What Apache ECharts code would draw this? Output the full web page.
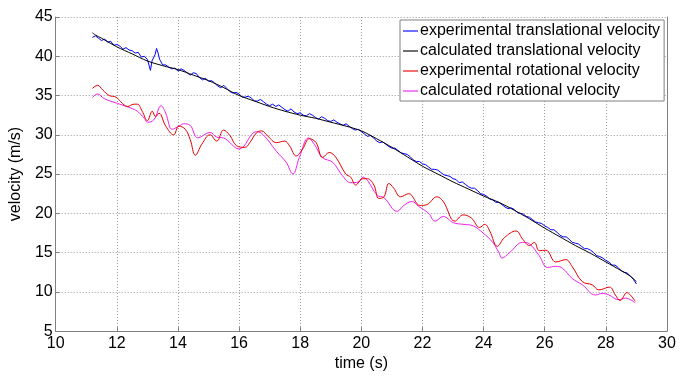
<!DOCTYPE html>
<html>
<head>
<meta charset="utf-8">
<script src="https://cdn.jsdelivr.net/npm/echarts@6/dist/echarts.min.js"></script>
<style>html,body{margin:0;padding:0;background:#fff}#c{width:679px;height:377px}</style>
</head>
<body>
<div id="c"></div>
<script>
var seriesNames = ['experimental translational velocity','calculated translational velocity','experimental rotational velocity','calculated rotational velocity'];
var seriesColors = ['#0000ff','#000000','#e60000','#ee22ee'];
var xTicks = [10,12,14,16,18,20,22,24,26,28,30];
var yTicks = [5,10,15,20,25,30,35,40,45];

var tExpTrans = [11.2,11.3,11.4,11.5,11.6,11.7,11.8,11.9,12.0,12.1,12.2,12.3,12.4,12.5,12.6,12.7,12.8,12.9,13.0,13.05,13.1,13.15,13.2,13.25,13.3,13.35,13.4,13.5,13.6,13.7,13.8,13.9,14.0,14.1,14.2,14.3,14.4,14.5,14.6,14.7,14.8,14.9,15.0,15.1,15.2,15.3,15.4,15.5,15.6,15.7,15.8,15.9,16.0,16.1,16.2,16.3,16.4,16.5,16.6,16.7,16.8,16.9,17.0,17.1,17.2,17.3,17.4,17.5,17.6,17.7,17.8,17.9,18.0,18.1,18.2,18.3,18.4,18.5,18.6,18.7,18.8,18.9,19.0,19.1,19.2,19.3,19.4,19.5,19.6,19.7,19.8,19.9,20.0,20.1,20.2,20.3,20.4,20.5,20.6,20.7,20.8,20.9,21.0,21.1,21.2,21.3,21.4,21.5,21.6,21.7,21.8,21.9,22.0,22.1,22.2,22.3,22.4,22.5,22.6,22.7,22.8,22.9,23.0,23.1,23.2,23.3,23.4,23.5,23.6,23.7,23.8,23.9,24.0,24.1,24.2,24.3,24.4,24.5,24.6,24.7,24.8,24.9,25.0,25.1,25.2,25.3,25.4,25.5,25.6,25.7,25.8,25.9,26.0,26.1,26.2,26.3,26.4,26.5,26.6,26.7,26.8,26.9,27.0,27.1,27.2,27.3,27.4,27.5,27.6,27.7,27.8,27.9,28.0,28.1,28.2,28.3,28.4,28.5,28.6,28.7,28.8,28.9,29.0];
var vExpTrans = [42.4,42.6,42.3,42.0,42.2,41.8,41.9,41.4,41.5,41.3,40.9,41.1,40.8,40.7,40.4,40.5,39.9,40.0,39.6,39.8,38.2,39.4,39.3,40.2,41.0,40.4,39.6,38.9,38.9,38.6,38.4,38.5,38.1,38.4,38.2,37.9,37.6,37.9,37.8,37.3,37.0,37.2,36.8,36.9,36.6,36.2,36.0,36.3,35.9,35.5,35.3,35.4,35.2,34.8,34.8,34.9,34.7,34.3,34.3,34.5,34.2,33.9,33.7,33.9,33.6,33.8,33.5,33.2,33.0,33.3,32.9,32.7,32.8,32.5,32.4,32.7,32.5,32.2,32.0,32.3,32.1,31.8,31.7,31.9,31.6,31.4,31.2,31.4,31.1,30.8,30.6,30.7,30.4,30.1,29.8,29.9,29.6,29.2,29.0,29.1,28.8,28.5,28.3,28.3,28.0,27.7,27.6,27.5,27.2,26.8,26.6,26.6,26.3,26.2,25.9,25.6,25.6,25.5,25.2,24.9,24.8,24.7,24.4,24.3,23.9,24.0,23.7,23.4,23.2,23.2,22.9,22.5,22.4,22.2,21.8,21.7,21.4,21.4,21.1,20.8,20.6,20.7,20.5,20.1,20.0,19.9,19.6,19.5,19.2,18.9,18.8,18.7,18.4,18.2,17.9,17.9,17.6,17.2,17.0,17.0,16.7,16.3,16.2,16.1,15.8,15.5,15.5,15.3,15.0,14.6,14.5,14.3,14.0,13.8,13.4,13.4,13.1,12.7,12.5,12.4,12.0,11.6,11.0];

var tCalcTrans = [11.2,11.3,11.5,12.0,12.5,13.0,13.5,14.0,14.5,15.0,15.5,16.0,16.5,17.0,17.5,18.0,18.5,19.0,19.5,20.0,20.5,21.0,21.5,22.0,22.5,23.0,23.5,24.0,24.5,25.0,25.5,26.0,26.5,27.0,27.5,28.0,28.5,28.8,29.0];
var vCalcTrans = [43.0,42.7,42.3,41.2,40.3,39.4,38.8,38.3,37.6,36.9,36.0,35.0,34.3,33.6,33.0,32.5,32.1,31.6,31.1,30.5,29.5,28.4,27.2,26.0,25.0,24.0,23.1,22.2,21.4,20.4,19.3,18.1,17.0,15.9,14.9,13.8,12.7,12.0,11.3];

var tExpRot = [11.2,11.37,11.54,11.75,11.97,12.13,12.35,12.56,12.67,12.83,13.0,13.16,13.27,13.38,13.6,13.86,14.03,14.24,14.4,14.57,14.78,15.05,15.27,15.49,15.7,15.92,16.19,16.35,16.57,16.73,16.95,17.22,17.49,17.65,17.87,18.08,18.3,18.52,18.73,18.95,19.17,19.49,19.65,19.82,20.03,20.2,20.41,20.57,20.74,20.9,21.06,21.28,21.55,21.92,22.14,22.47,22.68,23.06,23.33,23.6,23.87,24.04,24.2,24.45,24.68,25.06,25.28,25.5,25.66,25.82,26.04,26.36,26.69,26.9,27.23,27.55,27.77,28.12,28.31,28.47,28.69,28.8,28.96];
var vExpRot = [35.9,36.3,35.7,35.0,34.8,34.2,33.6,33.9,33.9,33.0,31.8,33.0,32.3,32.75,31.1,30.0,31.1,30.7,29.4,27.4,28.8,30.0,29.2,30.6,29.9,28.6,28.4,29.0,30.25,30.5,29.8,29.0,29.2,28.6,27.3,28.2,29.5,29.0,27.1,27.75,27.1,25.0,24.6,23.6,24.4,24.4,23.6,21.9,22.1,23.8,23.2,22.1,22.5,21.0,21.1,22.1,21.5,19.0,19.8,19.4,18.2,18.6,17.75,15.8,16.9,17.75,16.7,15.9,16.3,15.25,15.3,13.8,14.1,13.2,11.3,10.9,10.25,10.6,9.6,8.9,9.9,9.6,8.8];

var tCalcRot = [11.2,11.37,11.59,12.02,12.46,12.67,12.9,13.0,13.21,13.45,13.6,13.81,14.03,14.19,14.4,14.65,15.05,15.27,15.49,16.0,16.57,16.79,17.22,17.54,17.76,17.97,18.27,18.46,18.73,19.06,19.38,19.65,19.92,20.06,20.2,20.52,20.74,21.17,21.39,21.66,21.87,22.2,22.41,22.68,23.01,23.33,23.66,23.98,24.3,24.5,24.6,24.85,25.28,25.5,25.82,26.09,26.36,26.58,26.9,27.23,27.66,27.88,28.1,28.42,28.64,28.96];
var vCalcRot = [34.75,35.2,34.6,34.0,33.4,33.0,32.1,31.6,31.9,33.7,32.75,30.7,31.1,31.4,31.2,29.6,30.3,29.7,29.6,28.2,30.4,30.0,27.9,26.5,25.0,27.1,29.6,28.8,27.1,26.5,24.8,23.9,24.0,24.6,24.2,22.3,22.0,20.25,21.0,21.5,20.9,20.0,19.0,19.6,18.8,18.6,18.4,17.5,16.3,15.0,14.3,15.0,16.3,16.1,14.6,13.1,13.25,13.0,11.7,10.9,9.6,9.8,9.6,9.0,9.2,8.6];

function pairs(t, v) { return t.map(function (x, i) { return [x, v[i]]; }); }

var chart = echarts.init(document.getElementById('c'), null, {renderer: 'canvas'});
var font = 'Arial, "Liberation Sans", sans-serif';
var fs = 16;
var gridStyle = {show: true, lineStyle: {color: '#9a9a9a', type: [1, 2], width: 1}};
chart.setOption({
  animation: false,
  backgroundColor: '#ffffff',
  grid: {left: 51, right: 12, top: 17, bottom: 40, containLabel: false},
  legend: {
    orient: 'vertical', left: 400, top: 20,
    data: seriesNames.map(function (n, i) { return {name: n, icon: 'rect', itemStyle: {color: seriesColors[i], opacity: 0.75}}; }),
    itemWidth: 15, itemHeight: 1.5, itemGap: 4,
    padding: [3, 4, 2, 3],
    backgroundColor: '#ffffff', borderColor: '#808080', borderWidth: 1, borderRadius: 0,
    textStyle: {fontFamily: font, fontSize: fs, color: '#000', lineHeight: 16, padding: [0, 0, 0, -3]}
  },
  xAxis: {
    type: 'value', min: xTicks[0], max: xTicks[xTicks.length - 1], interval: 2,
    name: 'time (s)', nameLocation: 'middle', nameGap: 22,
    nameTextStyle: {fontFamily: font, fontSize: fs, color: '#000'},
    axisLine: {show: true, onZero: false, lineStyle: {color: '#808080', width: 1}},
    axisTick: {show: true, inside: true, length: 4, lineStyle: {color: '#808080'}},
    axisLabel: {fontFamily: font, fontSize: fs, color: '#000', margin: 4},
    splitLine: gridStyle
  },
  yAxis: [{
    type: 'value', min: yTicks[0], max: yTicks[yTicks.length - 1], interval: 5,
    name: 'velocity (m/s)', nameLocation: 'middle', nameGap: 25, nameRotate: 90,
    nameTextStyle: {fontFamily: font, fontSize: fs, color: '#000'},
    axisLine: {show: true, onZero: false, lineStyle: {color: '#808080', width: 1}},
    axisTick: {show: true, inside: true, length: 4, lineStyle: {color: '#808080'}},
    axisLabel: {fontFamily: font, fontSize: fs, color: '#000', margin: 3},
    splitLine: gridStyle
  }, {
    type: 'value', position: 'right', min: yTicks[0], max: yTicks[yTicks.length - 1], interval: 5,
    axisLine: {show: true, onZero: false, lineStyle: {color: '#808080', width: 1}},
    axisTick: {show: false}, axisLabel: {show: false}, splitLine: {show: false}
  }],
  series: [
    {name: seriesNames[0], type: 'line', data: pairs(tExpTrans, vExpTrans), symbol: 'none', lineStyle: {color: seriesColors[0], width: 1}, itemStyle: {color: seriesColors[0]}, z: 3},
    {name: seriesNames[1], type: 'line', data: pairs(tCalcTrans, vCalcTrans), symbol: 'none', smooth: 0.3, lineStyle: {color: seriesColors[1], width: 1}, itemStyle: {color: seriesColors[1]}, z: 4},
    {name: seriesNames[2], type: 'line', data: pairs(tExpRot, vExpRot), symbol: 'none', smooth: 0.4, lineStyle: {color: seriesColors[2], width: 1}, itemStyle: {color: seriesColors[2]}, z: 3},
    {name: seriesNames[3], type: 'line', data: pairs(tCalcRot, vCalcRot), symbol: 'none', smooth: 0.4, lineStyle: {color: seriesColors[3], width: 1}, itemStyle: {color: seriesColors[3]}, z: 2}
  ]
});
</script>
</body>
</html>
